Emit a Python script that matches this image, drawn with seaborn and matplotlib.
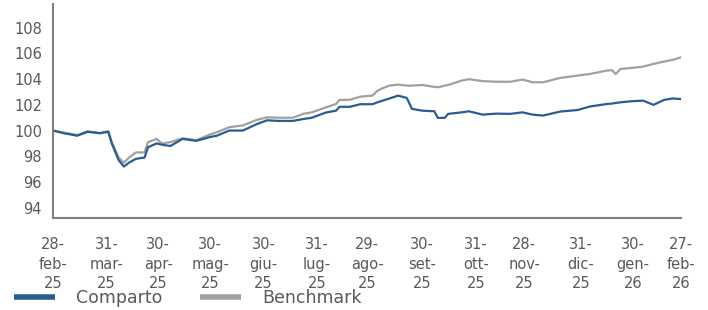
import matplotlib
matplotlib.use("Agg")
import matplotlib.pyplot as plt
import seaborn as sns
import pandas as pd

# valori (base 100 al 28-feb-25)
dates = [
    "2025-02-28", "2025-03-06", "2025-03-14", "2025-03-20", "2025-03-27",
    "2025-04-01", "2025-04-03", "2025-04-07", "2025-04-10", "2025-04-13",
    "2025-04-17", "2025-04-22", "2025-04-24", "2025-04-29", "2025-05-02",
    "2025-05-07", "2025-05-14", "2025-05-22", "2025-05-30", "2025-06-03",
    "2025-06-10", "2025-06-18", "2025-06-26", "2025-07-02", "2025-07-09",
    "2025-07-17", "2025-07-23", "2025-07-28", "2025-08-05", "2025-08-11",
    "2025-08-13", "2025-08-19", "2025-08-25", "2025-09-01", "2025-09-04",
    "2025-09-07", "2025-09-11", "2025-09-16", "2025-09-21", "2025-09-24",
    "2025-09-30", "2025-10-07", "2025-10-09", "2025-10-13", "2025-10-15",
    "2025-10-23", "2025-10-27", "2025-11-04", "2025-11-12", "2025-11-20",
    "2025-11-27", "2025-12-03", "2025-12-09", "2025-12-19", "2025-12-29",
    "2026-01-05", "2026-01-15", "2026-01-18", "2026-01-20", "2026-01-23",
    "2026-01-29", "2026-02-05", "2026-02-11", "2026-02-17", "2026-02-22",
    "2026-02-27",
]
comparto = [
    100.0, 99.8, 99.6, 99.9, 99.8,
    99.9, 99.0, 97.7, 97.2, 97.5,
    97.8, 97.9, 98.7, 99.0, 98.9,
    98.8, 99.35, 99.2, 99.5, 99.6,
    100.0, 100.0, 100.5, 100.8, 100.75,
    100.75, 100.9, 101.0, 101.4, 101.55,
    101.85, 101.85, 102.05, 102.05, 102.2,
    102.33, 102.5, 102.72, 102.54, 101.69,
    101.55, 101.5, 100.99, 100.99, 101.3,
    101.42, 101.5, 101.24, 101.32, 101.3,
    101.42, 101.24, 101.17, 101.48, 101.6,
    101.87, 102.07, 102.1, 102.15, 102.2,
    102.28, 102.33, 102.0, 102.38, 102.5,
    102.45,
]
benchmark = [
    100.0, 99.85, 99.65, 99.95, 99.8,
    99.95, 99.1, 97.9, 97.5, 97.9,
    98.3, 98.3, 99.1, 99.35, 99.0,
    99.1, 99.4, 99.25, 99.7, 99.87,
    100.26, 100.4, 100.83, 101.03, 101.0,
    101.0, 101.3, 101.42, 101.8, 102.07,
    102.38, 102.4, 102.64, 102.72, 103.1,
    103.3, 103.5, 103.58, 103.5, 103.5,
    103.55, 103.4, 103.37, 103.5, 103.55,
    103.9, 104.0, 103.85, 103.8, 103.8,
    103.97, 103.76, 103.76, 104.1, 104.28,
    104.4, 104.67, 104.7, 104.4, 104.8,
    104.87, 104.98, 105.19, 105.37, 105.5,
    105.7,
]
tick_dates = [
    "2025-02-28", "2025-03-31", "2025-04-30", "2025-05-30", "2025-06-30",
    "2025-07-31", "2025-08-29", "2025-09-30", "2025-10-31", "2025-11-28",
    "2025-12-31", "2026-01-30", "2026-02-27",
]
tick_labels = [
    "28-\nfeb-\n25", "31-\nmar-\n25", "30-\napr-\n25", "30-\nmag-\n25",
    "30-\ngiu-\n25", "31-\nlug-\n25", "29-\nago-\n25", "30-\nset-\n25",
    "31-\nott-\n25", "28-\nnov-\n25", "31-\ndic-\n25", "30-\ngen-\n26",
    "27-\nfeb-\n26",
]
y_ticks = [94, 96, 98, 100, 102, 104, 106, 108]

df = pd.DataFrame({
    "data": pd.to_datetime(dates * 2),
    "valore": comparto + benchmark,
    "serie": ["Comparto"] * len(dates) + ["Benchmark"] * len(dates),
})

sns.set_theme(style="white")
plt.rcParams["font.family"] = ["DejaVu Sans"]
text_col = "#595959"
axis_col = "#808080"
blu = "#2B5C8F"
grigio = "#A0A0A0"

fig = plt.figure(figsize=(7.08, 3.10), dpi=100)
ax = fig.add_axes([0.075, 0.297, 0.887, 0.69])

sns.lineplot(data=df, x="data", y="valore", hue="serie",
             palette={"Comparto": blu, "Benchmark": grigio},
             hue_order=["Benchmark", "Comparto"], linewidth=1.6, ax=ax,
             legend=False)

ax.set_xlim(pd.Timestamp(tick_dates[0]), pd.Timestamp(tick_dates[-1]))
ax.set_ylim(93.2, 109.85)
ax.set_yticks(y_ticks)
ax.set_xticks(pd.to_datetime(tick_dates))
ax.set_xticklabels(tick_labels, linespacing=1.35)
ax.set_xlabel("")
ax.set_ylabel("")

for s in ["top", "right"]:
    ax.spines[s].set_visible(False)
for s in ["left", "bottom"]:
    ax.spines[s].set_color(axis_col)
    ax.spines[s].set_linewidth(1.5)
ax.tick_params(axis="both", colors=axis_col, labelcolor=text_col,
               labelsize=10.5, direction="out", width=1.3)
ax.tick_params(axis="x", length=6, pad=8)
ax.tick_params(axis="y", length=5, pad=3)

handles = [plt.Line2D([], [], color=blu, lw=4, solid_capstyle="butt"),
           plt.Line2D([], [], color=grigio, lw=4, solid_capstyle="butt")]
fig.legend(handles, ["Comparto", "Benchmark"], ncol=2, frameon=False,
           loc="center left", bbox_to_anchor=(0.02, 0.038),
           borderpad=0, borderaxespad=0,
           fontsize=12.5, labelcolor=text_col, handlelength=2.35,
           columnspacing=2.2, handletextpad=1.2)

fig.savefig("out.png", dpi=100)
